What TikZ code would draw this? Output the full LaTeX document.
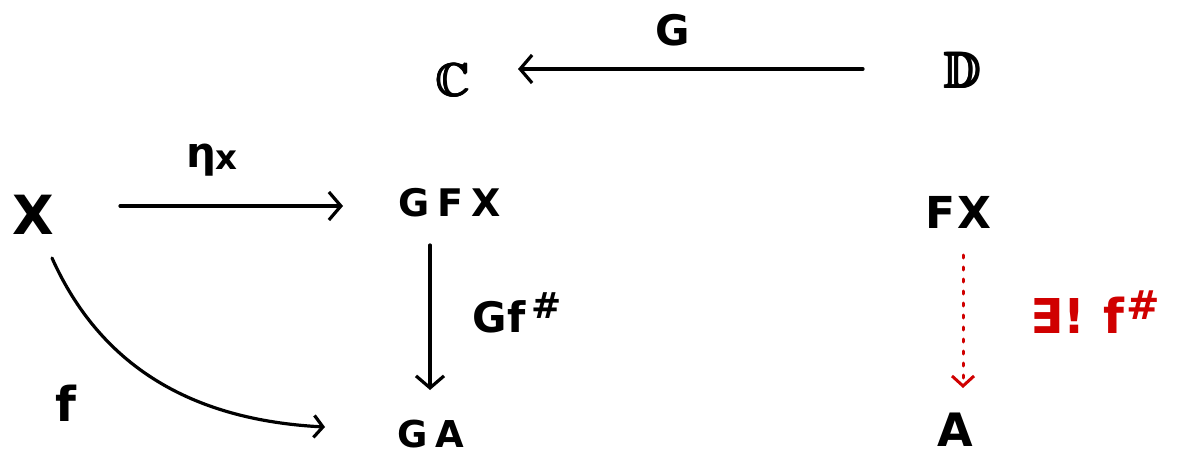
\documentclass[tikz,border=0pt]{standalone}
\usepackage{amssymb}
\usepackage{fontspec}
\setmainfont{DejaVu Sans}
\usetikzlibrary{arrows.meta}
\definecolor{hred}{RGB}{208,0,0}
\newcommand{\fsz}[1]{\fontsize{#1}{#1}\selectfont\bfseries}
\newcommand{\fat}[1]{\rlap{\kern1.6pt#1}\rlap{\raisebox{1.6pt}{#1}}\rlap{\kern1.6pt\raisebox{1.6pt}{#1}}\rlap{\kern0.8pt\raisebox{0.8pt}{#1}}\rlap{\kern0.8pt#1}\rlap{\raisebox{0.8pt}{#1}}#1}
\tikzset{
  obj/.style={inner sep=0pt, anchor=center},
  lbl/.style={inner sep=0pt, anchor=center},
  arr/.style={line width=3.2pt, line cap=round,
    -{Straight Barb[length=12pt,width=28pt,line width=3.2pt]}},
  smallarr/.style={line width=3.2pt, line cap=round,
    -{Straight Barb[length=9pt,width=22pt,line width=3.2pt]}},
  dotarr/.style={hred, line width=3pt, line cap=round,
    dash pattern=on 3pt off 9pt,
    -{Straight Barb[length=10pt,width=22pt,line width=3pt]}},
}
\begin{document}
\begin{tikzpicture}[x=1pt,y=-1pt]
\useasboundingbox (0,0) rectangle (1186,457);
% objects
\node[obj] (C) at (452,80) {\fsz{46}\fat{$\mathbb{C}$}};
\node[obj] (D) at (962,70) {\fsz{50}\fat{$\mathbb{D}$}};
\node[obj] (X) at (33,215) {\fsz{54}X};
\node[obj] (GFX) at (450,203) {\fsz{38}G\hspace{8pt}F\hspace{8pt}X};
\node[obj] (FX) at (958,212) {\fsz{44}F\hspace{2pt}X};
\node[obj] (GA) at (431,434) {\fsz{37}G\hspace{8pt}A};
\node[obj] (A) at (955,430) {\fsz{46}A};
% connection points
\coordinate (Dw) at (863,69);
\coordinate (Ce) at (518,69);
\coordinate (Xe) at (120,206);
\coordinate (GFXw) at (343,206);
\coordinate (GFXs) at (430,245);
\coordinate (GAn) at (430,390);
\coordinate (Xs) at (52,258);
\coordinate (GAw) at (325,427);
\coordinate (FXs) at (963,255);
\coordinate (An) at (963,388);
% arrows
\draw[arr] (Dw) -- (Ce);
\draw[arr] (Xe) -- (GFXw);
\draw[arr] (GFXs) -- (GAn);
\draw[smallarr] (Xs) .. controls (100,365) and (190,420) .. (GAw);
\draw[dotarr] (FXs) -- (An);
% labels
\node[lbl] (lG) at (673,30) {\fsz{42}G};
\node[lbl] (leta) at (212,160) {\fsz{42}η\raisebox{-2pt}{\fsz{34}x}};
\node[lbl] (lGf) at (517,313) {\fsz{42}Gf\hspace{6pt}\raisebox{14pt}{\fsz{36}\#}};
\node[lbl] (lf) at (66,403) {\fsz{48}f};
\node[lbl, text=hred] (lex) at (1095,312) {\fsz{48}∃!\hspace{18pt}f\hspace{2pt}\raisebox{14pt}{\fsz{40}\#}};
\end{tikzpicture}
\end{document}
